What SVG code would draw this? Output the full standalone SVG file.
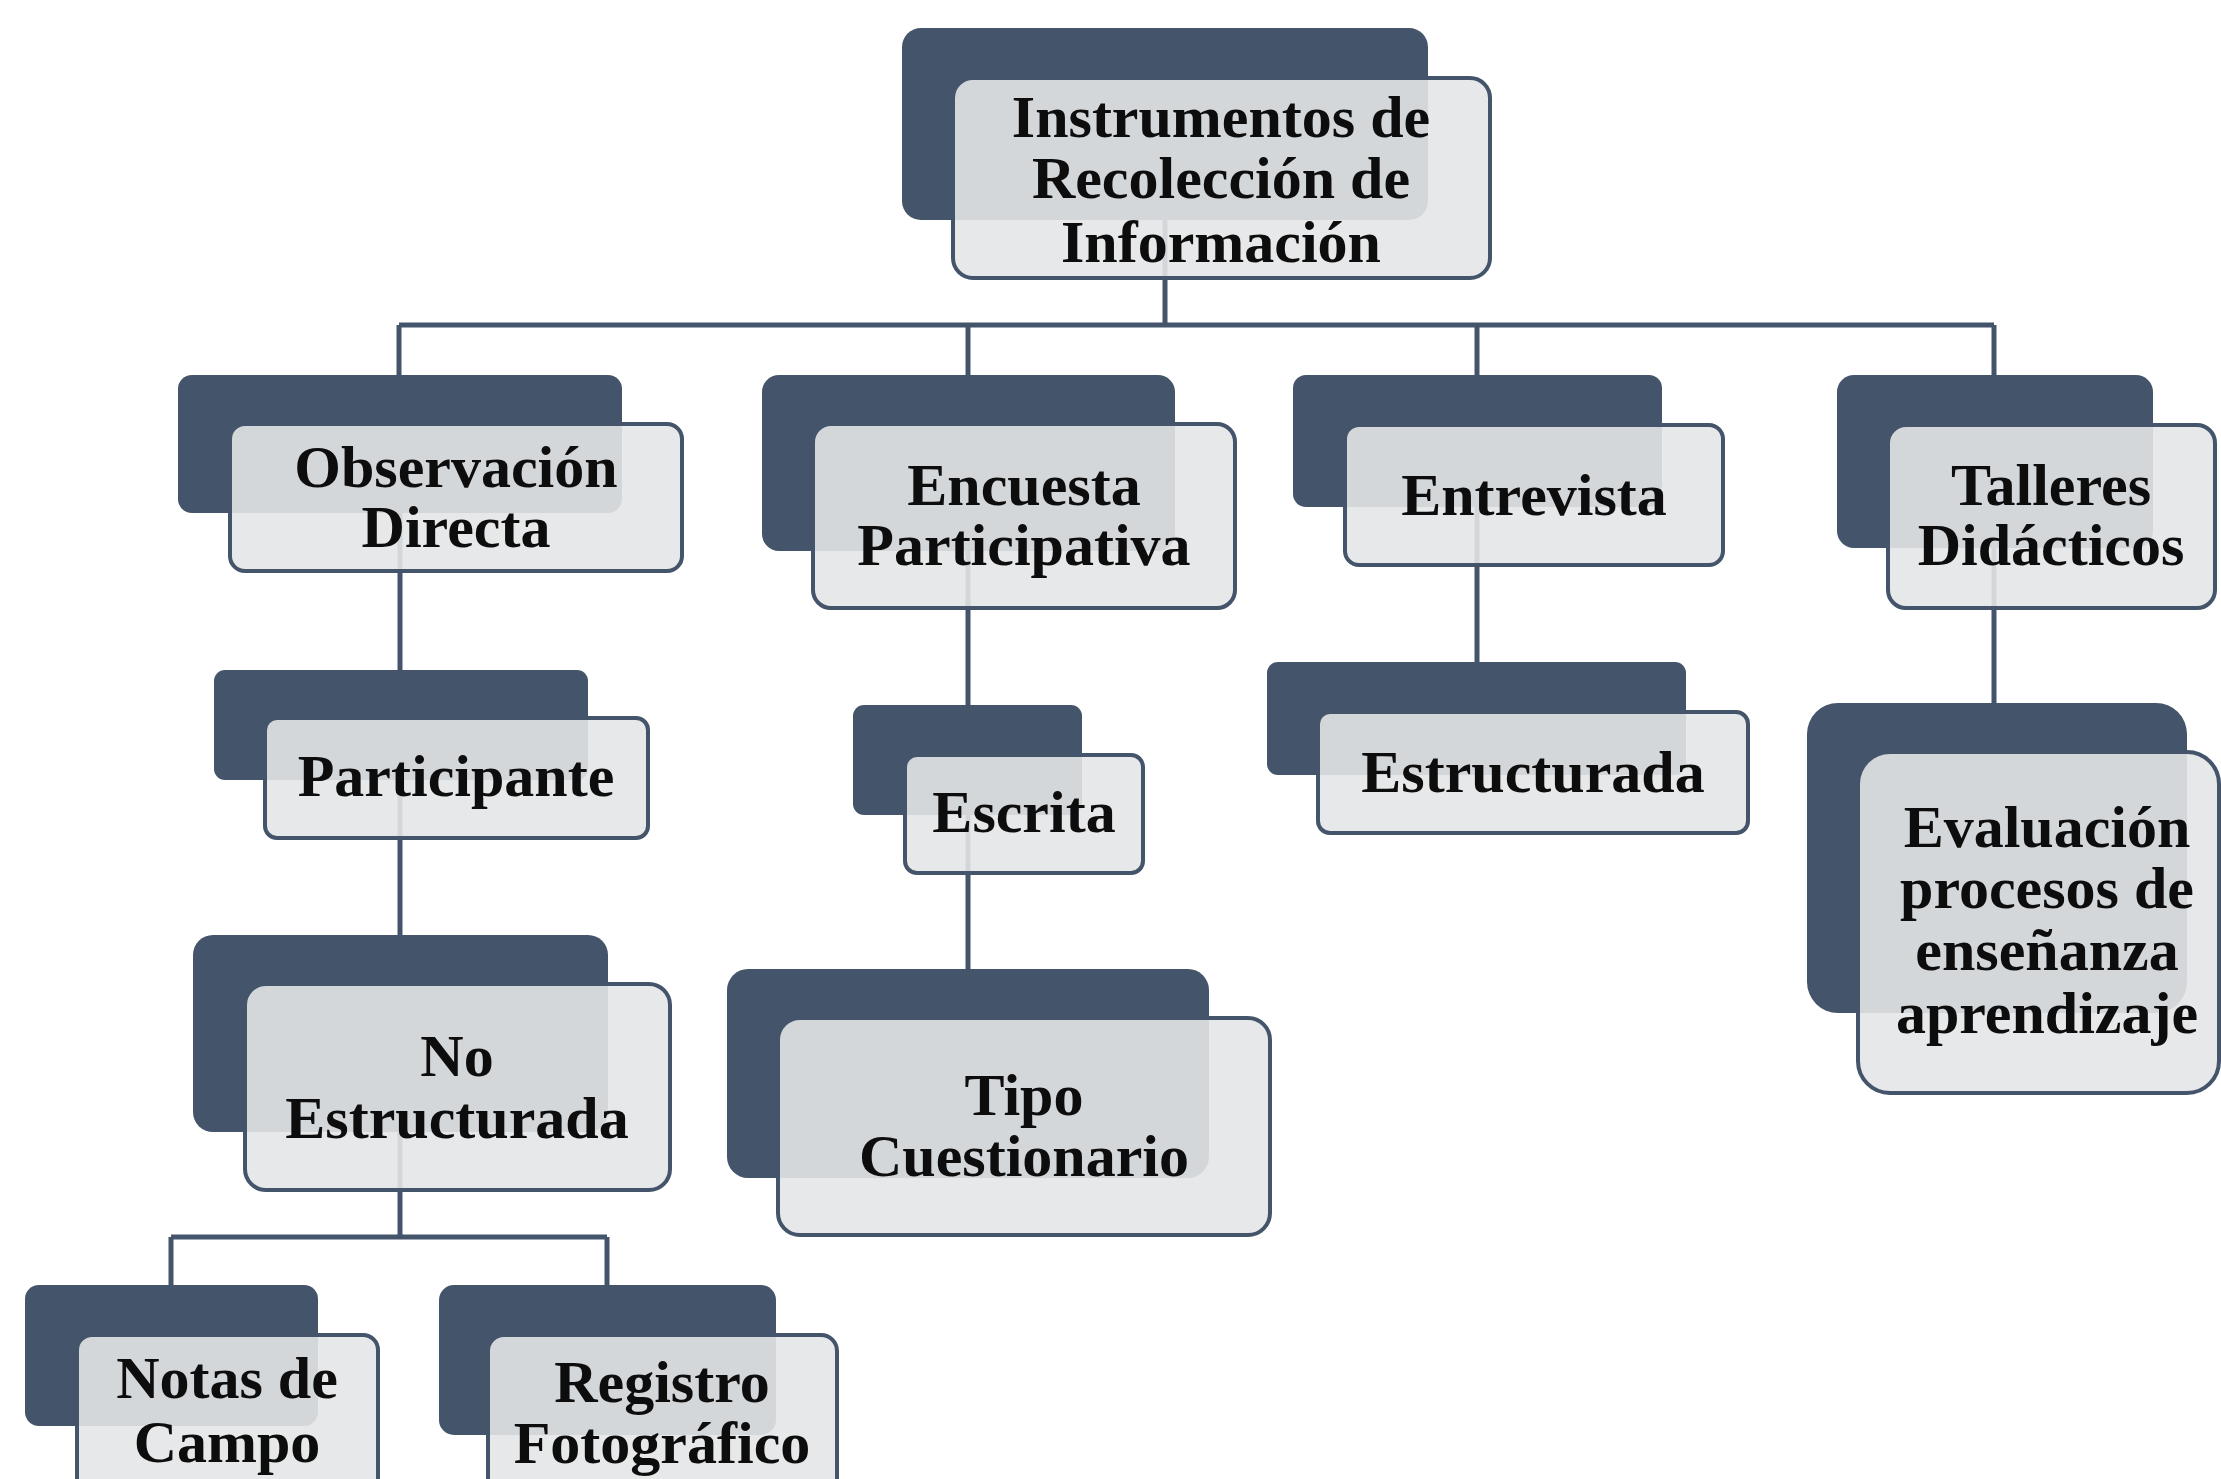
<svg xmlns="http://www.w3.org/2000/svg" width="2221" height="1479" viewBox="0 0 2221 1479">
<style>
.dk{fill:#44546a;}
.fr{fill:#e4e5e7;fill-opacity:0.9;stroke:#44546a;stroke-width:4;}
.cn{fill:none;stroke:#44546a;stroke-width:5;}
text{font-family:"Liberation Serif","Times New Roman",serif;font-weight:bold;font-size:60px;fill:#0d0d0d;text-anchor:middle;}
</style>
<rect width="2221" height="1479" fill="#ffffff"/>
<g id="connectors" class="cn">
<path d="M1165 220 V325"/>
<path d="M399 325 H1994"/>
<path d="M399 325 V375"/>
<path d="M968 325 V375"/>
<path d="M1477 325 V375"/>
<path d="M1994 325 V375"/>
<path d="M400 513 V670"/>
<path d="M400 780 V935"/>
<path d="M400 1132 V1237"/>
<path d="M171 1237 H607"/>
<path d="M171 1237 V1285"/>
<path d="M607 1237 V1285"/>
<path d="M968 551 V705"/>
<path d="M968 815 V969"/>
<path d="M1477 507 V662"/>
<path d="M1994 548 V703"/>
</g>
<g id="node-root">
<rect class="dk" x="902" y="28" width="526" height="192" rx="19"/>
<rect class="fr" x="953" y="78" width="537" height="200" rx="20"/>
<text x="1221" y="137">Instrumentos de</text>
<text x="1221" y="198">Recolección de</text>
<text x="1221" y="262">Información</text>
</g>
<g id="node-observacion">
<rect class="dk" x="178" y="375" width="444" height="138" rx="14"/>
<rect class="fr" x="230" y="424" width="452" height="147" rx="15"/>
<text x="456" y="487">Observación</text>
<text x="456" y="547">Directa</text>
</g>
<g id="node-encuesta">
<rect class="dk" x="762" y="375" width="413" height="176" rx="17"/>
<rect class="fr" x="813" y="424" width="422" height="184" rx="18"/>
<text x="1024" y="505">Encuesta</text>
<text x="1024" y="565">Participativa</text>
</g>
<g id="node-entrevista">
<rect class="dk" x="1293" y="375" width="369" height="132" rx="13"/>
<rect class="fr" x="1345" y="425" width="378" height="140" rx="14"/>
<text x="1534" y="515">Entrevista</text>
</g>
<g id="node-talleres">
<rect class="dk" x="1837" y="375" width="316" height="173" rx="17"/>
<rect class="fr" x="1888" y="425" width="327" height="183" rx="18"/>
<text x="2051" y="505">Talleres</text>
<text x="2051" y="565">Didácticos</text>
</g>
<g id="node-participante">
<rect class="dk" x="214" y="670" width="374" height="110" rx="11"/>
<rect class="fr" x="265" y="718" width="383" height="120" rx="12"/>
<text x="456" y="796">Participante</text>
</g>
<g id="node-noestructurada">
<rect class="dk" x="193" y="935" width="415" height="197" rx="20"/>
<rect class="fr" x="245" y="984" width="425" height="206" rx="21"/>
<text x="457" y="1076">No</text>
<text x="457" y="1138">Estructurada</text>
</g>
<g id="node-notas">
<rect class="dk" x="25" y="1285" width="293" height="141" rx="14"/>
<rect class="fr" x="77" y="1335" width="301" height="160" rx="15"/>
<text x="227" y="1398">Notas de</text>
<text x="227" y="1462">Campo</text>
</g>
<g id="node-registro">
<rect class="dk" x="439" y="1285" width="337" height="150" rx="15"/>
<rect class="fr" x="488" y="1335" width="349" height="165" rx="16"/>
<text x="662" y="1402">Registro</text>
<text x="662" y="1463">Fotográfico</text>
</g>
<g id="node-escrita">
<rect class="dk" x="853" y="705" width="229" height="110" rx="11"/>
<rect class="fr" x="905" y="755" width="238" height="118" rx="12"/>
<text x="1024" y="832">Escrita</text>
</g>
<g id="node-tipo">
<rect class="dk" x="727" y="969" width="482" height="209" rx="21"/>
<rect class="fr" x="778" y="1018" width="492" height="217" rx="22"/>
<text x="1024" y="1115">Tipo</text>
<text x="1024" y="1176">Cuestionario</text>
</g>
<g id="node-estructurada">
<rect class="dk" x="1267" y="662" width="419" height="113" rx="11"/>
<rect class="fr" x="1318" y="712" width="430" height="121" rx="12"/>
<text x="1533" y="792">Estructurada</text>
</g>
<g id="node-evaluacion">
<rect class="dk" x="1807" y="703" width="380" height="310" rx="31"/>
<rect class="fr" x="1858" y="752" width="361" height="341" rx="32"/>
<text x="2047" y="847">Evaluación</text>
<text x="2047" y="908">procesos de</text>
<text x="2047" y="970">enseñanza</text>
<text x="2047" y="1033">aprendizaje</text>
</g>
</svg>
